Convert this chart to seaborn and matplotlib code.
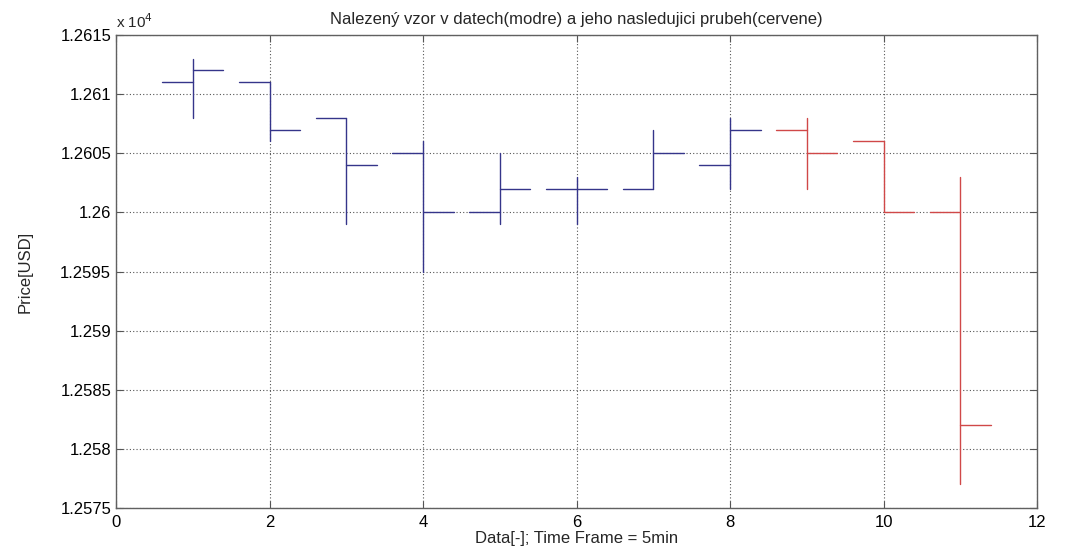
import matplotlib
matplotlib.use("Agg")
import matplotlib.pyplot as plt
import matplotlib.ticker as mticker
import numpy as np
import pandas as pd
import seaborn as sns

# ---- data (price in USD) ----
bar_x = [1, 2, 3, 4, 5, 6, 7, 8, 9, 10, 11]
opens = [12611, 12611, 12608, 12605, 12600, 12602, 12602, 12604, 12607, 12606, 12600]
highs = [12613, 12611, 12608, 12606, 12605, 12603, 12607, 12608, 12608, 12606, 12603]
lows = [12608, 12606, 12599, 12595, 12599, 12599, 12602, 12602, 12602, 12600, 12577]
closes = [12612, 12607, 12604, 12600, 12602, 12602, 12605, 12607, 12605, 12600, 12582]
groups = ["pattern"] * 8 + ["future"] * 3

title = "Nalezený vzor v datech(modre) a jeho nasledujici prubeh(cervene)"
xlabel = "Data[-]; Time Frame = 5min"
ylabel = "Price[USD]"
y_ticks = [12575, 12580, 12585, 12590, 12595, 12600, 12605, 12610, 12615]
x_ticks = [0, 2, 4, 6, 8, 10, 12]

TICK = 0.4
rows = []
seg = 0
for x, o, h, l, c, g in zip(bar_x, opens, highs, lows, closes, groups):
    for pts in ([(x, l), (x, h)], [(x - TICK, o), (x, o)], [(x, c), (x + TICK, c)]):
        for px, py in pts:
            rows.append({"x": px, "y": py, "seg": seg, "group": g})
        seg += 1
df = pd.DataFrame(rows)

sns.set_theme(style="white")
plt.rcParams["font.family"] = ["Liberation Sans", "DejaVu Sans"]

fig = plt.figure(figsize=(10.70, 5.47), dpi=100)
ax = fig.add_axes([116 / 1070, 1 - 508 / 547, (1037 - 116) / 1070, (508 - 35) / 547])

sns.lineplot(data=df, x="x", y="y", units="seg", estimator=None, hue="group",
             palette={"pattern": "#35358a", "future": "#d04848"}, sort=False,
             linewidth=1.0, legend=False, ax=ax)

ax.set_xlim(0, 12)
ax.set_ylim(12575, 12615)
ax.set_xticks(x_ticks)
ax.set_yticks(y_ticks)
ax.yaxis.set_major_formatter(mticker.FuncFormatter(lambda v, p: f"{v / 1e4:g}"))
ax.grid(True, linestyle=(0, (1, 2)), color="#555555", linewidth=0.8)
ax.tick_params(direction="in", length=5, width=0.8, color="#555555", labelsize=12,
               labelcolor="black", bottom=True, left=True, top=True, right=True)
ax.tick_params(axis="x", pad=5)
for s in ax.spines.values():
    s.set_color("#606060")
    s.set_linewidth(1.0)

ax.set_title(title, fontsize=12, pad=8)
ax.set_xlabel(xlabel, fontsize=12, labelpad=1)
ax.set_ylabel(ylabel, fontsize=12, labelpad=20, fontstretch="condensed")
ax.text(0.0, 1.008, r"x 10$^4$", transform=ax.transAxes, fontsize=11, ha="left", va="bottom")

fig.savefig("out.png", dpi=100)
